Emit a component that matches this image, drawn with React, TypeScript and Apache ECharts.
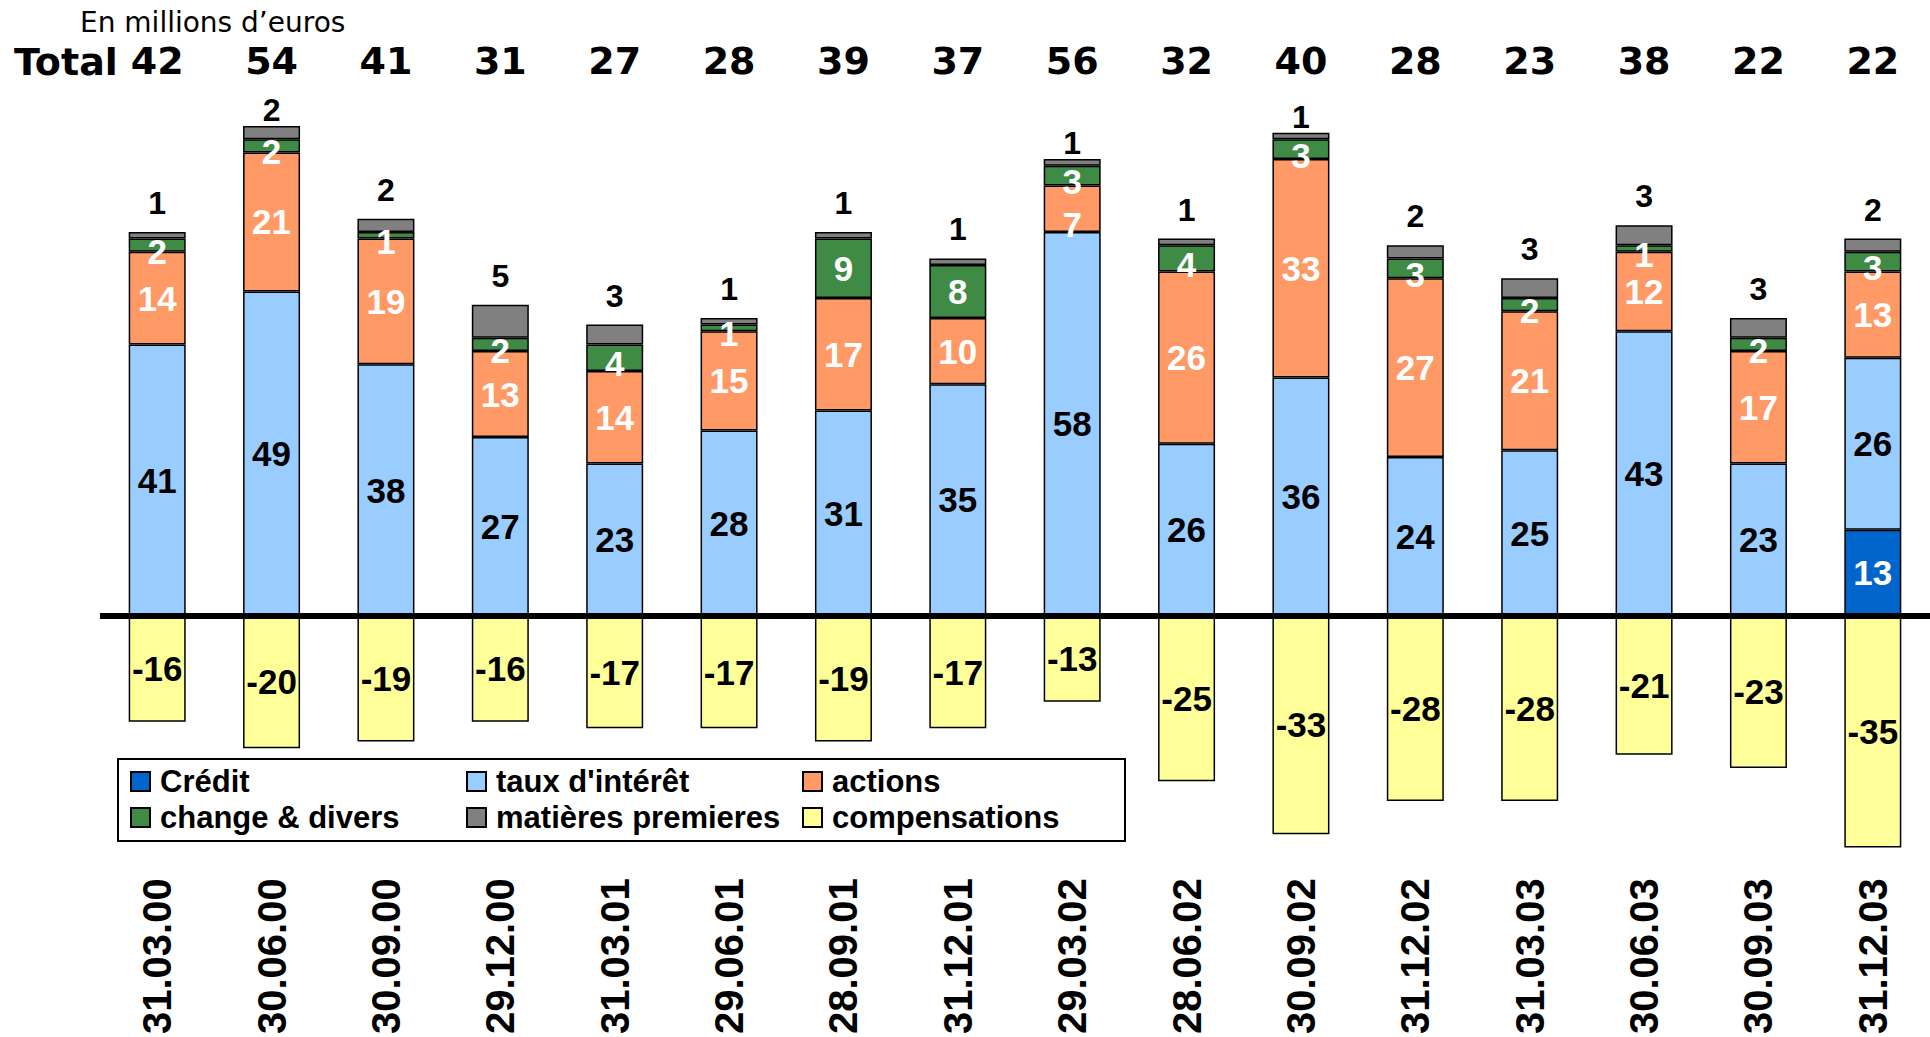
import React, { useEffect, useRef } from "react";
import * as echarts from "echarts";

const categories = [
  "31.03.00", "30.06.00", "30.09.00", "29.12.00", "31.03.01", "29.06.01",
  "28.09.01", "31.12.01", "29.03.02", "28.06.02", "30.09.02", "31.12.02",
  "31.03.03", "30.06.03", "30.09.03", "31.12.03",
];
const totals = [42, 54, 41, 31, 27, 28, 39, 37, 56, 32, 40, 28, 23, 38, 22, 22];
const credit = [null, null, null, null, null, null, null, null, null, null, null, null, null, null, null, 13];
const tauxInteret = [41, 49, 38, 27, 23, 28, 31, 35, 58, 26, 36, 24, 25, 43, 23, 26];
const actions = [14, 21, 19, 13, 14, 15, 17, 10, 7, 26, 33, 27, 21, 12, 17, 13];
const changeDivers = [2, 2, 1, 2, 4, 1, 9, 8, 3, 4, 3, 3, 2, 1, 2, 3];
const matieresPremieres = [1, 2, 2, 5, 3, 1, 1, 1, 1, 1, 1, 2, 3, 3, 3, 2];
const compensations = [-16, -20, -19, -16, -17, -17, -19, -17, -13, -25, -33, -28, -28, -21, -23, -35];

// bars whose top label sits closer to the bar (squeezed under the totals row)
const tightTopLabel = [1, 8, 10];

const ARIAL = "'Liberation Sans', Arial, sans-serif";
const DEJAVU = "'DejaVu Sans', Verdana, sans-serif";

export default function App() {
  const ref = useRef<HTMLDivElement>(null);
  useEffect(() => {
    if (!ref.current) return;
    const chart = echarts.init(ref.current, null, { renderer: "svg" });
    const fmt = (p: any) => (p.value == null ? "" : String(p.value));
    const border = { borderColor: "#000", borderWidth: 1.5 };
    const inLabel = (color: string, size = 35) => ({
      show: true,
      position: "inside",
      color,
      fontFamily: ARIAL,
      fontWeight: "bold",
      fontSize: size,
      formatter: fmt,
    });
    const legendText = {
      fontFamily: ARIAL,
      fontWeight: "bold",
      fontSize: 31,
      color: "#000",
      width: 300,
      lineHeight: 31,
      padding: [0, 0, 0, 5],
    };
    const option: any = {
      animation: false,
      backgroundColor: "#fff",
      grid: { left: 100, width: 1832, top: 86.3, bottom: 168.4, containLabel: false },
      xAxis: [
        {
          type: "category",
          data: categories,
          position: "bottom",
          axisLine: { show: false, onZero: false },
          axisTick: { show: false },
          axisLabel: {
            rotate: 90,
            margin: 11,
            color: "#000",
            fontFamily: ARIAL,
            fontWeight: "bold",
            fontSize: 40,
            interval: 0,
          },
        },
        {
          type: "category",
          data: totals.map(String),
          position: "top",
          axisLine: { show: false, onZero: false },
          axisTick: { show: false },
          axisLabel: {
            margin: 6,
            color: "#000",
            fontFamily: DEJAVU,
            fontWeight: "bold",
            fontSize: 38,
            interval: 0,
          },
        },
      ],
      yAxis: { type: "value", min: -38, max: 80, show: false, splitLine: { show: false } },
      legend: [
        {
          data: ["Crédit", "taux d'intérêt", "actions"],
          left: 130,
          top: 766,
          padding: 0,
          itemWidth: 19,
          itemHeight: 19,
          itemGap: 6,
          icon: "rect",
          textStyle: legendText,
          selectedMode: false,
        },
        {
          data: ["change & divers", "matières premieres", "compensations"],
          left: 130,
          top: 802,
          padding: 0,
          itemWidth: 19,
          itemHeight: 19,
          itemGap: 6,
          icon: "rect",
          textStyle: legendText,
          selectedMode: false,
        },
      ],
      graphic: [
        {
          type: "rect",
          z: 0,
          shape: { x: 118, y: 759, width: 1007, height: 82 },
          style: { fill: "#fff", stroke: "#000", lineWidth: 2 },
        },
        {
          type: "text",
          x: 80,
          y: 22.5,
          style: {
            text: "En millions d’euros",
            fontFamily: DEJAVU,
            fontSize: 28,
            fill: "#000",
            verticalAlign: "middle",
          },
        },
        {
          type: "text",
          x: 14,
          y: 62,
          style: {
            text: "Total",
            fontFamily: DEJAVU,
            fontWeight: "bold",
            fontSize: 38,
            fill: "#000",
            verticalAlign: "middle",
          },
        },
      ],
      series: [
        {
          name: "Crédit",
          type: "bar",
          stack: "s",
          barWidth: 57,
          data: credit,
          itemStyle: { color: "#0066CC", ...border },
          label: inLabel("#fff"),
        },
        {
          name: "taux d'intérêt",
          type: "bar",
          stack: "s",
          barWidth: 57,
          data: tauxInteret,
          itemStyle: { color: "#99CCFF", ...border },
          label: inLabel("#000"),
        },
        {
          name: "actions",
          type: "bar",
          stack: "s",
          barWidth: 57,
          data: actions.map((v) =>
            v < 10 ? { value: v, label: { offset: [0, 16] } } : v
          ),
          itemStyle: { color: "#FF9966", ...border },
          label: inLabel("#fff"),
        },
        {
          name: "change & divers",
          type: "bar",
          stack: "s",
          barWidth: 57,
          data: changeDivers.map((v) =>
            v <= 4 ? { value: v, label: { offset: [0, 6] } } : v
          ),
          itemStyle: { color: "#3F8A45", ...border },
          label: inLabel("#fff"),
        },
        {
          name: "matières premieres",
          type: "bar",
          stack: "s",
          barWidth: 57,
          data: matieresPremieres.map((v, i) =>
            tightTopLabel.includes(i) ? { value: v, label: { distance: 0 } } : v
          ),
          itemStyle: { color: "#808080", ...border },
          label: {
            show: true,
            position: "top",
            distance: 13,
            color: "#000",
            fontFamily: ARIAL,
            fontWeight: "bold",
            fontSize: 32,
            formatter: fmt,
          },
        },
        {
          name: "compensations",
          type: "bar",
          stack: "s",
          barWidth: 57,
          data: compensations,
          itemStyle: { color: "#FFFF99", ...border },
          label: inLabel("#000"),
          markLine: {
            silent: true,
            symbol: "none",
            label: { show: false },
            lineStyle: { color: "#000", width: 6, type: "solid" },
            data: [{ yAxis: 0 }],
          },
        },
      ],
    };
    chart.setOption(option);
    return () => chart.dispose();
  }, []);
  return (
    <div
      ref={ref}
      style={{ position: "absolute", left: 0, top: 0, width: 1930, height: 1037 }}
    />
  );
}
